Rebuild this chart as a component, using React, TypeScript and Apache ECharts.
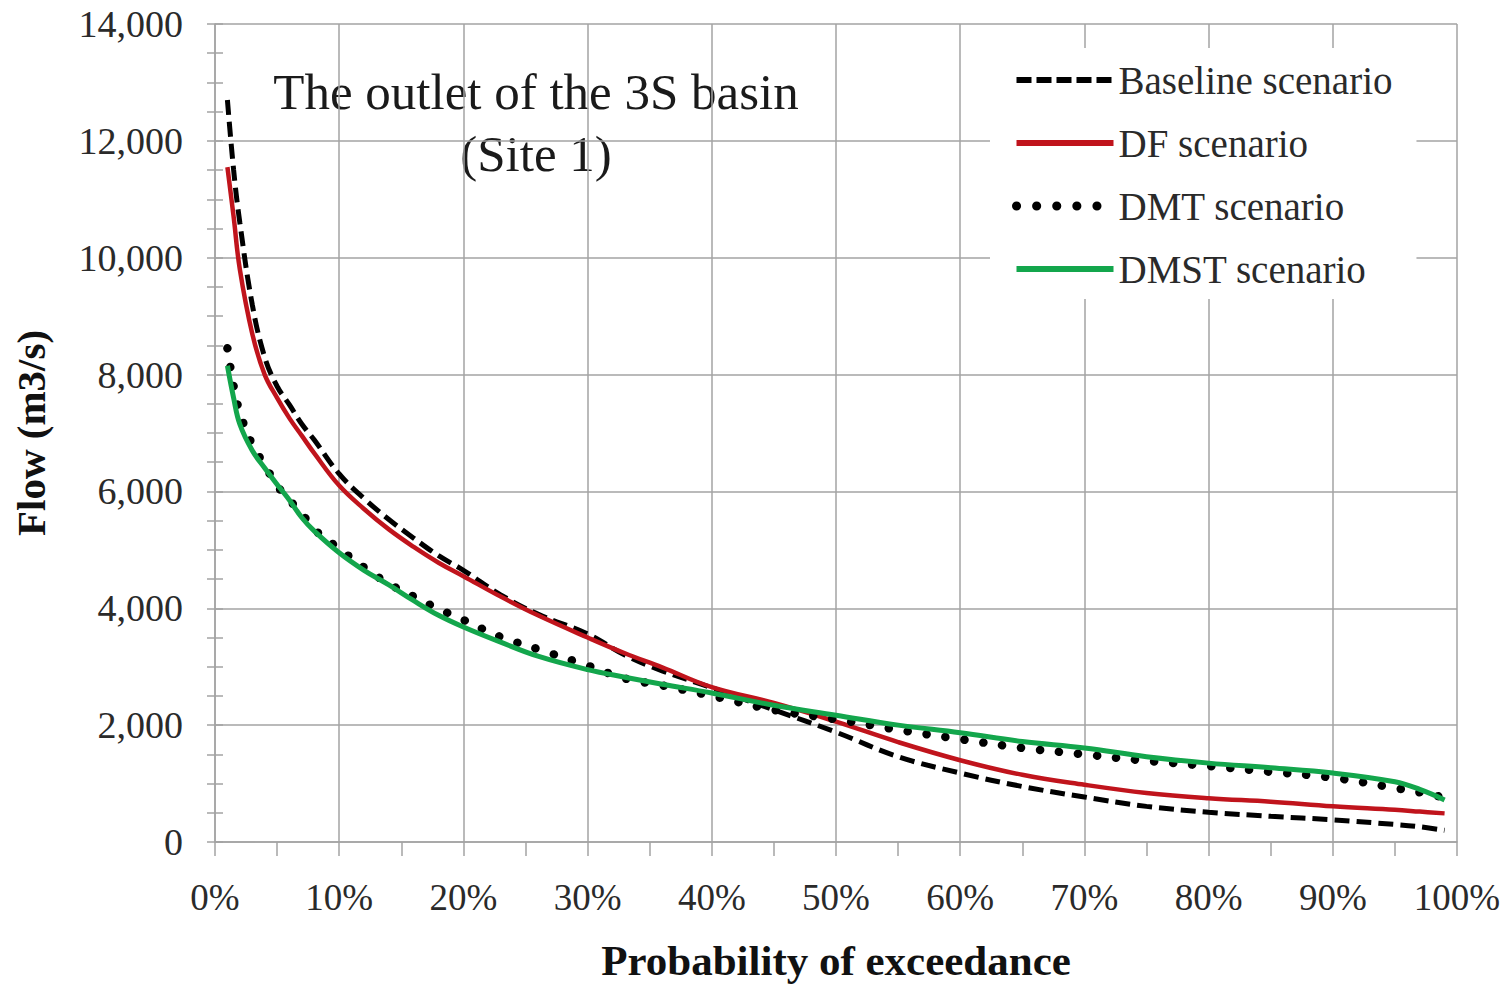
import React, { useEffect, useRef } from "react";
import * as echarts from "echarts";

const exceedance = [1, 1.5, 2, 3, 4, 5, 6, 7, 8, 10, 12, 14, 16, 18, 20, 23, 26, 30, 33, 36, 40, 45, 50, 55, 60, 65, 70, 75, 80, 85, 90, 95, 97, 99];
const baselineFlow = [12700, 11500, 10600, 9200, 8300, 7800, 7480, 7150, 6880, 6300, 5880, 5520, 5200, 4900, 4650, 4230, 3900, 3560, 3200, 2930, 2640, 2260, 1880, 1460, 1180, 950, 770, 610, 510, 440, 380, 300, 260, 200];
const dfFlow = [11550, 10700, 9800, 8700, 8000, 7600, 7250, 6950, 6650, 6100, 5700, 5350, 5050, 4780, 4550, 4200, 3880, 3500, 3230, 2990, 2650, 2380, 2060, 1710, 1400, 1150, 980, 840, 750, 690, 610, 550, 520, 490];
const dmtFlow = [8450, 7800, 7350, 6800, 6450, 6100, 5850, 5620, 5350, 5020, 4700, 4420, 4200, 3990, 3800, 3510, 3300, 3020, 2800, 2680, 2500, 2260, 2100, 1920, 1760, 1610, 1500, 1390, 1300, 1200, 1100, 925, 850, 760];
const dmstFlow = [8150, 7600, 7150, 6700, 6400, 6120, 5850, 5550, 5320, 4950, 4650, 4400, 4130, 3880, 3680, 3420, 3180, 2950, 2820, 2700, 2550, 2340, 2170, 2000, 1870, 1720, 1610, 1460, 1350, 1270, 1180, 1030, 900, 720];

const seriesNames = ["Baseline scenario", "DF scenario", "DMT scenario", "DMST scenario"];
const titleLines = ["The outlet of the 3S basin", "(Site 1)"];
const xTitle = "Probability of exceedance";
const yTitle = "Flow (m3/s)";

const FONT = "'Liberation Serif', 'Times New Roman', serif";
const GRID_COLOR = "#a3a3a3";
const TEXT_COLOR = "#2a2a2a";

const pairs = (ys: number[]) => exceedance.map((x, i) => [x, ys[i]]);

const styles = [
  { color: "#000000", width: 5, type: [15, 7] as any, cap: "butt" },
  { color: "#c0141c", width: 4.5, type: "solid" as any, cap: "butt" },
  { color: "#000000", width: 8.5, type: [0.1, 19] as any, cap: "round" },
  { color: "#13a64c", width: 5, type: "solid" as any, cap: "butt" },
];
const legendStyles = [
  { color: "#000000", width: 6, type: [15, 5] as any, cap: "butt" },
  { color: "#c0141c", width: 6, type: "solid" as any, cap: "butt" },
  { color: "#000000", width: 9, type: [0.1, 20] as any, cap: "round" },
  { color: "#13a64c", width: 6, type: "solid" as any, cap: "butt" },
];

export default function App() {
  const ref = useRef<HTMLDivElement>(null);
  useEffect(() => {
    document.body.style.margin = "0";
    if (!ref.current) return;
    const chart = echarts.init(ref.current, null, { renderer: "svg" });
    const datasets = [baselineFlow, dfFlow, dmtFlow, dmstFlow];
    chart.setOption({
      animation: false,
      backgroundColor: "#ffffff",
      grid: { left: 215, right: 54, top: 24, bottom: 145, containLabel: false },
      legend: {
        orient: "vertical",
        left: 990,
        top: 48,
        backgroundColor: "#ffffff",
        padding: [12, 24, 10, 22],
        itemWidth: 97,
        itemHeight: 20,
        itemGap: 23,
        itemStyle: { opacity: 0 },
        textStyle: { fontFamily: FONT, fontSize: 39, color: TEXT_COLOR, lineHeight: 40 },
        data: seriesNames.map((n, i) => ({
          name: n,
          itemStyle: { opacity: 0 },
          lineStyle: legendStyles[i],
        })),
      },
      xAxis: {
        type: "value",
        min: 0,
        max: 100,
        interval: 10,
        name: xTitle,
        nameLocation: "middle",
        nameGap: 97,
        nameTextStyle: { fontFamily: FONT, fontSize: 43, fontWeight: "bold", color: "#111" },
        axisLine: { show: true, lineStyle: { color: GRID_COLOR, width: 1.5 } },
        axisTick: { show: true, length: 14, lineStyle: { color: GRID_COLOR, width: 1.5 } },
        minorTick: { show: true, splitNumber: 2, length: 14, lineStyle: { color: GRID_COLOR, width: 1.5 } },
        axisLabel: { formatter: "{value}%", fontFamily: FONT, fontSize: 37, color: TEXT_COLOR, margin: 37 },
        splitLine: { show: true, lineStyle: { color: GRID_COLOR, width: 1.5 } },
      },
      yAxis: [
        {
          type: "value",
          min: 0,
          max: 14000,
          interval: 2000,
          name: yTitle,
          nameLocation: "middle",
          nameRotate: 90,
          nameGap: 164,
          nameTextStyle: { fontFamily: FONT, fontSize: 41, fontWeight: "bold", color: "#111" },
          axisLine: { show: true, lineStyle: { color: GRID_COLOR, width: 1.5 } },
          axisTick: { show: true, length: 8, lineStyle: { color: GRID_COLOR, width: 1.5 } },
          minorTick: { show: true, splitNumber: 4, length: 8, lineStyle: { color: GRID_COLOR, width: 1.5 } },
          axisLabel: {
            formatter: (v: number) => v.toLocaleString("en-US"),
            fontFamily: FONT,
            fontSize: 38,
            color: TEXT_COLOR,
            margin: 32,
          },
          splitLine: { show: true, lineStyle: { color: GRID_COLOR, width: 1.5 } },
        },
        {
          type: "value",
          min: 0,
          max: 14000,
          interval: 2000,
          position: "left",
          offset: 0,
          axisLine: { show: false },
          axisTick: { show: true, inside: true, length: 8, lineStyle: { color: GRID_COLOR, width: 1.5 } },
          minorTick: { show: true, splitNumber: 4, length: 8, lineStyle: { color: GRID_COLOR, width: 1.5 } },
          axisLabel: { show: false },
          splitLine: { show: false },
        },
      ],
      graphic: [
        {
          type: "group",
          z: 50,
          children: [
            { type: "rect", shape: { x: 258, y: 55, width: 556, height: 132 }, style: { fill: "#ffffff" } },
            {
              type: "text",
              x: 536,
              y: 92,
              style: { text: titleLines[0], fontFamily: FONT, fontSize: 51, fill: "#1a1a1a", align: "center", verticalAlign: "middle" },
            },
            {
              type: "text",
              x: 536,
              y: 154,
              style: { text: titleLines[1], fontFamily: FONT, fontSize: 51, fill: "#1a1a1a", align: "center", verticalAlign: "middle" },
            },
          ],
        },
      ],
      series: seriesNames.map((n, i) => ({
        name: n,
        type: "line",
        data: pairs(datasets[i]),
        symbol: "none",
        showSymbol: false,
        smooth: 0.4,
        color: styles[i].color,
        itemStyle: { color: styles[i].color },
        lineStyle: styles[i],
        z: 2 + i,
      })),
    });
    return () => chart.dispose();
  }, []);
  return <div ref={ref} style={{ width: 1511, height: 987 }} />;
}
